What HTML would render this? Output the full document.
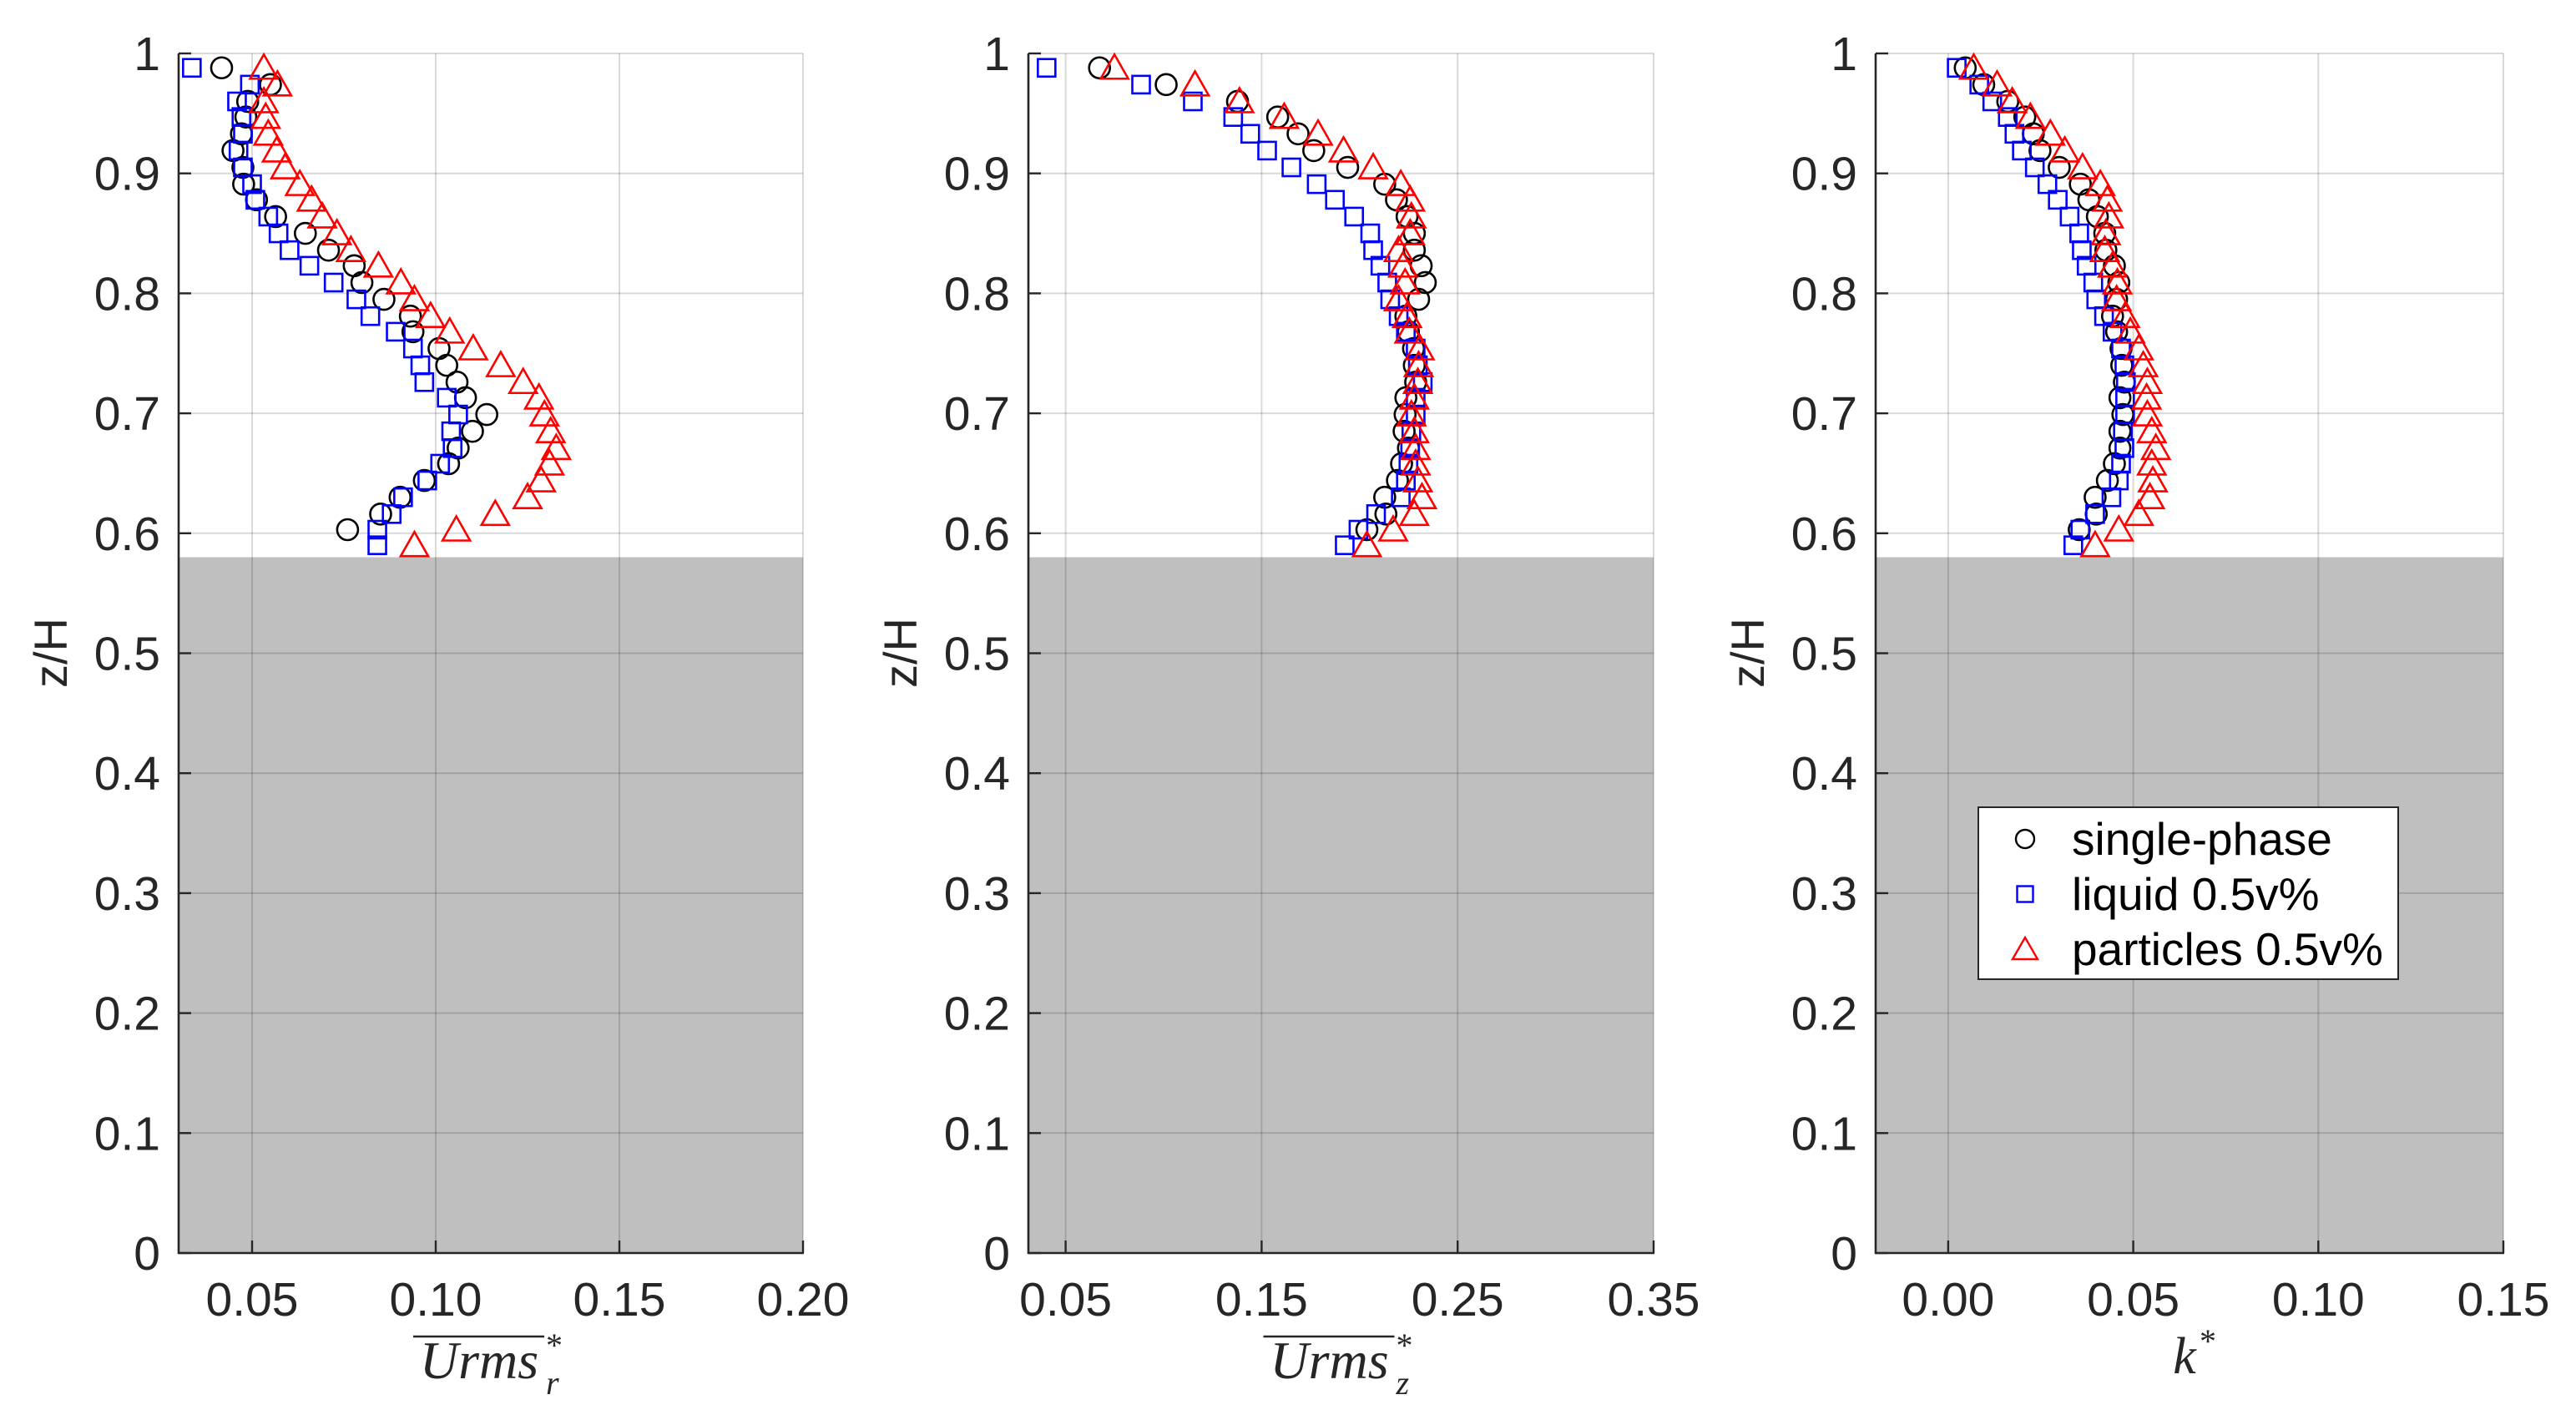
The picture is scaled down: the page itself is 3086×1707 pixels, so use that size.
<!DOCTYPE html>
<html><head><meta charset="utf-8"><style>
html,body{margin:0;padding:0;background:#fff;}
svg{display:block;font-family:"Liberation Sans",sans-serif;}
</style></head><body>
<svg id="fig" width="3086" height="1707" viewBox="0 0 3086 1707" xmlns="http://www.w3.org/2000/svg"></svg>
<script>
// shared z/H grid
const zGrid = [0.988,0.974,0.960,0.947,0.933,0.919,0.905,0.891,0.878,0.864,0.850,0.836,0.823,0.809,0.795,0.781,0.768,0.754,0.740,0.726,0.713,0.699,0.685,0.671,0.658,0.644,0.630,0.616,0.603,0.590];
const yTicks = [0,0.1,0.2,0.3,0.4,0.5,0.6,0.7,0.8,0.9,1];
const yTickLabels = ["0","0.1","0.2","0.3","0.4","0.5","0.6","0.7","0.8","0.9","1"];
const wallTop = 0.58;

// Panel 1: Urms_r
const p1Ticks = [0.05,0.10,0.15,0.20];
const p1TickLabels = ["0.05","0.10","0.15","0.20"];
const p1Single = [0.0417,0.0550,0.0488,0.0483,0.0471,0.0448,0.0475,0.0477,0.0512,0.0564,0.0645,0.0708,0.0778,0.0799,0.0859,0.0931,0.0938,0.1009,0.1030,0.1058,0.1081,0.1139,0.1100,0.1061,0.1035,0.0969,0.0903,0.0850,0.0760];
const p1Liquid = [0.0336,0.0494,0.0459,0.0471,0.0475,0.0463,0.0475,0.0500,0.0509,0.0544,0.0572,0.0602,0.0656,0.0722,0.0784,0.0822,0.0891,0.0938,0.0958,0.0969,0.1030,0.1061,0.1042,0.1046,0.1012,0.0977,0.0911,0.0880,0.0841,0.0841];
const p1Part = [0.0532,0.0569,0.0532,0.0537,0.0544,0.0567,0.0590,0.0630,0.0662,0.0691,0.0731,0.0769,0.0844,0.0905,0.0942,0.0986,0.1038,0.1102,0.1177,0.1238,0.1281,0.1296,0.1313,0.1328,0.1310,0.1287,0.1250,0.1162,0.1056,0.0942];

// Panel 2: Urms_z
const p2Ticks = [0.05,0.15,0.25,0.35];
const p2TickLabels = ["0.05","0.15","0.25","0.35"];
const p2Single = [0.0673,0.1013,0.1377,0.1582,0.1686,0.1766,0.1939,0.2128,0.2188,0.2242,0.2279,0.2279,0.2314,0.2335,0.2301,0.2236,0.2249,0.2275,0.2279,0.2286,0.2236,0.2232,0.2227,0.2249,0.2214,0.2193,0.2128,0.2134,0.2037];
const p2Liquid = [0.0403,0.0885,0.1149,0.1355,0.1442,0.1528,0.1652,0.1781,0.1874,0.1972,0.2054,0.2069,0.2106,0.2141,0.2156,0.2199,0.2236,0.2286,0.2297,0.2322,0.2286,0.2286,0.2264,0.2258,0.2249,0.2236,0.2210,0.2084,0.1994,0.1924];
const p2Part = [0.0749,0.1160,0.1387,0.1615,0.1788,0.1918,0.2069,0.2210,0.2258,0.2264,0.2258,0.2199,0.2221,0.2232,0.2199,0.2242,0.2253,0.2307,0.2301,0.2297,0.2279,0.2264,0.2279,0.2286,0.2286,0.2297,0.2318,0.2279,0.2171,0.2037];

// Panel 3: k*
const p3Ticks = [0.00,0.05,0.10,0.15];
const p3TickLabels = ["0.00","0.05","0.10","0.15"];
const p3Single = [0.0046,0.0096,0.0161,0.0207,0.0230,0.0248,0.0300,0.0357,0.0380,0.0403,0.0423,0.0426,0.0449,0.0461,0.0455,0.0444,0.0455,0.0467,0.0469,0.0476,0.0464,0.0472,0.0464,0.0464,0.0449,0.0430,0.0397,0.0400,0.0354];
const p3Liquid = [0.0023,0.0084,0.0119,0.0161,0.0179,0.0199,0.0234,0.0268,0.0296,0.0328,0.0354,0.0361,0.0374,0.0392,0.0400,0.0421,0.0444,0.0467,0.0476,0.0480,0.0478,0.0478,0.0472,0.0476,0.0467,0.0461,0.0441,0.0397,0.0357,0.0338];
const p3Part = [0.0069,0.0132,0.0173,0.0222,0.0276,0.0315,0.0363,0.0411,0.0430,0.0434,0.0426,0.0423,0.0444,0.0457,0.0455,0.0478,0.0492,0.0515,0.0527,0.0538,0.0536,0.0538,0.0550,0.0561,0.0550,0.0553,0.0545,0.0515,0.0461,0.0397];

const NS = "http://www.w3.org/2000/svg";
const svg = document.getElementById("fig");
function mk(tag, attrs, parent){
  const e = document.createElementNS(NS, tag);
  for (const k in attrs) e.setAttribute(k, attrs[k]);
  (parent||svg).appendChild(e);
  return e;
}
const TOP = 64, BOT = 1501;
function yScale(v){ return BOT - v*(BOT-TOP); }

const panels = [
  {id:"urms-r", L:214, R:962, xmin:0.03, xmax:0.20, ticks:p1Ticks, labels:p1TickLabels, s:p1Single, l:p1Liquid, p:p1Part, title:"r"},
  {id:"urms-z", L:1232, R:1981, xmin:0.031, xmax:0.35, ticks:p2Ticks, labels:p2TickLabels, s:p2Single, l:p2Liquid, p:p2Part, title:"z"},
  {id:"k", L:2247, R:2999, xmin:-0.0196, xmax:0.15, ticks:p3Ticks, labels:p3TickLabels, s:p3Single, l:p3Liquid, p:p3Part, title:"k"}
];

panels.forEach(function(P){
  const g = mk("g", {});
  
  
  const xs = v => P.L + (v - P.xmin)/(P.xmax - P.xmin)*(P.R - P.L);
  mk("rect",{x:P.L,y:TOP,width:P.R-P.L,height:BOT-TOP,fill:"#fff"},g);
  const wall = mk("rect",{x:P.L,y:yScale(wallTop),width:P.R-P.L,height:BOT-yScale(wallTop),fill:"#bfbfbf"},g);
  
  
  yTicks.forEach(function(t){
    const ln = mk("line",{x1:P.L,x2:P.R,y1:yScale(t),y2:yScale(t),stroke:"rgba(0,0,0,0.15)","stroke-width":2},g);
    
    
  });
  P.ticks.forEach(function(t){
    const ln = mk("line",{x1:xs(t),x2:xs(t),y1:TOP,y2:BOT,stroke:"rgba(0,0,0,0.15)","stroke-width":2},g);
    
    
  });
  P.s.forEach(function(v,i){
    const c = mk("circle",{cx:xs(v),cy:yScale(zGrid[i]),r:12.5,fill:"none",stroke:"#000","stroke-width":2.6},g);
    
    
  });
  P.l.forEach(function(v,i){
    const x = xs(v), y = yScale(zGrid[i]);
    const r = mk("rect",{x:x-10.5,y:y-10.5,width:21,height:21,fill:"none",stroke:"#0000ff","stroke-width":2.6},g);
    
    
  });
  P.p.forEach(function(v,i){
    const x = xs(v), y = yScale(zGrid[i]);
    const t = mk("polygon",{points:(x)+","+(y-16)+" "+(x-16.5)+","+(y+13)+" "+(x+16.5)+","+(y+13),fill:"none",stroke:"#ff0000","stroke-width":2.6},g);
    
    
  });
  const ya = mk("line",{x1:P.L,x2:P.L,y1:TOP,y2:BOT+1,stroke:"#262626","stroke-width":2.6},g);
  
  
  const xa = mk("line",{x1:P.L-1,x2:P.R+1,y1:BOT,y2:BOT,stroke:"#262626","stroke-width":2.6},g);
  
  
  yTicks.forEach(function(t,i){
    mk("line",{x1:P.L,x2:P.L+15,y1:yScale(t),y2:yScale(t),stroke:"#262626","stroke-width":2.4},g);
    const tx = mk("text",{x:P.L-22,y:yScale(t)+20,"text-anchor":"end","font-size":57,fill:"#262626"},g);
    tx.textContent = yTickLabels[i];
    
    
  });
  P.ticks.forEach(function(t,i){
    mk("line",{x1:xs(t),x2:xs(t),y1:BOT,y2:BOT-15,stroke:"#262626","stroke-width":2.4},g);
    const tx = mk("text",{x:xs(t),y:1576,"text-anchor":"middle","font-size":57,fill:"#262626"},g);
    tx.textContent = P.labels[i];
    
    
  });
  const yt = mk("text",{x:0,y:0,"text-anchor":"middle","font-size":56,fill:"#262626",transform:"translate("+(P.L-134)+",782) rotate(-90)"},g);
  yt.textContent = "z/H";
  
  
  const cx = (P.L+P.R)/2;
  const xt = mk("g",{},g);
  
  
  if (P.title === "k"){
    const t1 = mk("text",{x:cx-6,y:1645,"text-anchor":"middle","font-size":62,fill:"#262626","font-family":"Liberation Serif, serif","font-style":"italic"},xt);
    t1.textContent = "k";
    const t2 = mk("text",{x:cx+12,y:1620,"font-size":40,fill:"#262626","font-family":"Liberation Serif, serif"},xt);
    t2.textContent = "*";
  } else {
    const t1 = mk("text",{x:cx-14,y:1651,"text-anchor":"middle","font-size":64,fill:"#262626","font-family":"Liberation Serif, serif","font-style":"italic"},xt);
    t1.textContent = "Urms";
    mk("line",{x1:cx-93,x2:cx+64,y1:1601,y2:1601,stroke:"#262626","stroke-width":2.4},xt);
    const t2 = mk("text",{x:cx+66,y:1670,"font-size":40,fill:"#262626","font-family":"Liberation Serif, serif","font-style":"italic"},xt);
    t2.textContent = P.title;
    const t3 = mk("text",{x:cx+66,y:1625,"font-size":40,fill:"#262626","font-family":"Liberation Serif, serif"},xt);
    t3.textContent = "*";
  }
});

const lg = mk("g",{});


mk("rect",{x:2370,y:967,width:503,height:206,fill:"#fff",stroke:"#262626","stroke-width":2},lg);
const legNames = ["single-phase","liquid 0.5v%","particles 0.5v%"];
const legY = [1005,1071,1137];
legNames.forEach(function(n,i){
  const y = legY[i], x = 2426;
  let m;
  if (i===0) m = mk("circle",{cx:x,cy:y,r:11,fill:"none",stroke:"#000","stroke-width":2.4},lg);
  else if (i===1) m = mk("rect",{x:x-9.5,y:y-9.5,width:19,height:19,fill:"none",stroke:"#0000ff","stroke-width":2.4},lg);
  else m = mk("polygon",{points:x+","+(y-14)+" "+(x-15)+","+(y+12)+" "+(x+15)+","+(y+12),fill:"none",stroke:"#ff0000","stroke-width":2.4},lg);
  
  
  const t = mk("text",{x:2482,y:y+19,"font-size":55,fill:"#000"},lg);
  t.textContent = n;
  
  
});
</script>
</body></html>
